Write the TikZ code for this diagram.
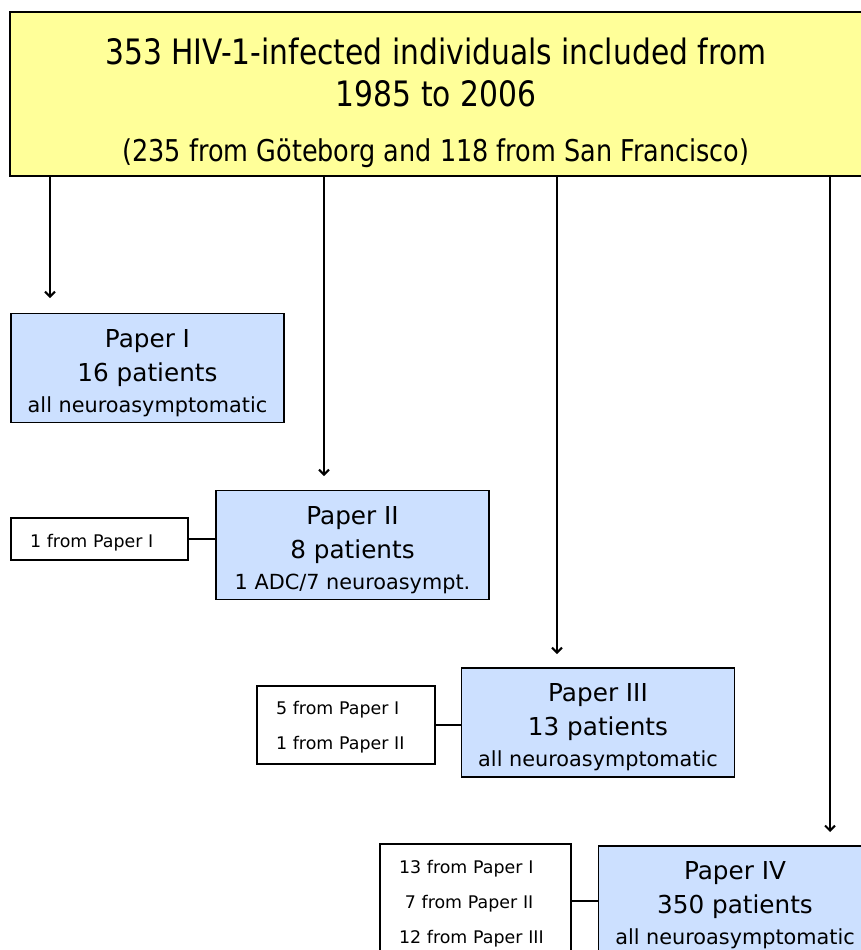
\documentclass[tikz,border=0pt]{standalone}
\usepackage{fontspec}
\setmainfont{DejaVu Sans}
\newfontfamily\titlefont[FakeStretch=0.85]{DejaVu Sans}
\usetikzlibrary{arrows.meta, positioning}

\definecolor{cohortyellow}{RGB}{255,255,153}
\definecolor{paperblue}{RGB}{204,224,255}

\begin{document}
\begin{tikzpicture}[
    x=1pt, y=-1pt,
    line width=1.2pt,
    >={Straight Barb[length=5pt,width=10pt]},
    every node/.style={align=center, inner sep=0pt},
    cohort/.style={draw, fill=cohortyellow, minimum width=852pt, minimum height=164pt},
    paper/.style={draw, fill=paperblue, minimum width=273pt, minimum height=109pt, text height=88pt, text depth=0pt, font=\fontsize{24.7}{34}\selectfont},
    overlap/.style={draw, fill=white, align=left, inner xsep=19pt, font=\fontsize{17.4}{35}\selectfont},
    arrow/.style={->, line width=2pt},
    link/.style={line width=1.2pt}
]
\useasboundingbox (0,0) rectangle (861,950);

% inclusion box
\node[cohort] (cohort) at (436,94) {};
\node[font=\titlefont\fontsize{35}{42}\selectfont] (cohorttext) at (436,103)
    {353 HIV-1-infected individuals included from\\1985 to 2006\\[13pt]{\fontsize{30}{42}\selectfont (235 from Göteborg and 118 from San Francisco)}};

% papers
\node[paper] (paper1) at (147.5,368) {Paper I\\16 patients\\[-3pt]{\fontsize{20.8}{34}\selectfont all neuroasymptomatic}};
\node[paper] (paper2) at (352.5,545) {Paper II\\8 patients\\[-3pt]{\fontsize{20.8}{34}\selectfont 1 ADC/7 neuroasympt.}};
\node[paper] (paper3) at (598,722.5) {Paper III\\13 patients\\[-3pt]{\fontsize{20.8}{34}\selectfont all neuroasymptomatic}};
\node[paper] (paper4) at (735,900.5) {Paper IV\\350 patients\\[-3pt]{\fontsize{20.8}{34}\selectfont all neuroasymptomatic}};

% patients taken over from earlier papers
\node[overlap, text width=139pt, minimum height=42pt, text height=16pt, text depth=0pt] (from2) at (99.5,539) {1 from Paper I};
\node[overlap, text width=140pt, minimum height=78pt, text depth=35pt] (from3) at (346,725) {5 from Paper I\\1 from Paper II};
\node[overlap, text width=153pt, minimum height=114pt, text depth=68pt] (from4) at (475.5,901) {13 from Paper I\\\ 7 from Paper II\\12 from Paper III};

% arrow ends
\coordinate (in1) at (50,298);
\coordinate (in2) at (324,476);
\coordinate (in3) at (557,654);
\coordinate (in4) at (830,832);

\draw[arrow] (cohort.south -| in1) -- (in1);
\draw[arrow] (cohort.south -| in2) -- (in2);
\draw[arrow] (cohort.south -| in3) -- (in3);
\draw[arrow] (cohort.south -| in4) -- (in4);

\draw[link] (from2.east) -- (paper2.west |- from2.east);
\draw[link] (from3.east) -- (paper3.west |- from3.east);
\draw[link] (from4.east) -- (paper4.west |- from4.east);
\end{tikzpicture}
\end{document}
